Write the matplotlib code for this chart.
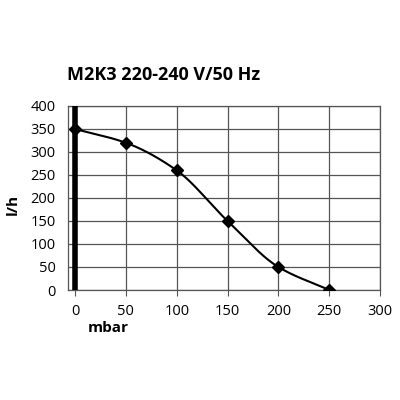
import matplotlib
matplotlib.use('Agg')
import matplotlib.pyplot as plt
import numpy as np

pressure = [0, 50, 100, 150, 200, 250]      # mbar
flow = [350, 320, 260, 150, 50, 0]          # l/h
x_ticks = [0, 50, 100, 150, 200, 250, 300]
y_ticks = [0, 50, 100, 150, 200, 250, 300, 350, 400]


def pchip(x, y, xs):
    # monotone cubic interpolation, just for a smooth line through the points
    x = np.asarray(x, float)
    y = np.asarray(y, float)
    h = np.diff(x)
    d = np.diff(y) / h
    m = np.zeros_like(y)
    for k in range(1, len(x) - 1):
        if d[k - 1] * d[k] > 0:
            w1 = 2 * h[k] + h[k - 1]
            w2 = h[k] + 2 * h[k - 1]
            m[k] = (w1 + w2) / (w1 / d[k - 1] + w2 / d[k])
    m[0] = d[0]
    m[-1] = d[-1]
    out = []
    for v in xs:
        k = min(np.searchsorted(x, v, side='right') - 1, len(x) - 2)
        t = (v - x[k]) / h[k]
        h00 = 2 * t**3 - 3 * t**2 + 1
        h10 = t**3 - 2 * t**2 + t
        h01 = -2 * t**3 + 3 * t**2
        h11 = t**3 - t**2
        out.append(h00 * y[k] + h10 * h[k] * m[k] + h01 * y[k + 1] + h11 * h[k] * m[k + 1])
    return np.array(out)


plt.rcParams['font.family'] = ['Open Sans', 'DejaVu Sans']

fig = plt.figure(figsize=(4, 4), dpi=100)
ax = fig.add_axes([0.17, 0.275, 0.78, 0.46])

xs = np.linspace(pressure[0], pressure[-1], 300)
ax.plot(xs, pchip(pressure, flow, xs), color='black', lw=1.5, zorder=3)
ax.plot(pressure, flow, linestyle='none', marker='D', markersize=6,
        color='black', zorder=4)
ax.plot([0, 0], [0, 400], color='black', lw=4, zorder=5, solid_capstyle='butt')

ax.set_xlim(-7, 300)
ax.set_ylim(0, 400)
ax.set_xticks(x_ticks)
ax.set_yticks(y_ticks)
ax.grid(True, color='#555555', lw=0.9)
ax.tick_params(axis='both', labelsize=10.5, length=4, color='#555555', pad=6)
ax.tick_params(axis='y', length=0, pad=9)
for s in ax.spines.values():
    s.set_color('#555555')
    s.set_linewidth(0.9)

fig.text(0.27, 0.18, 'mbar', fontsize=11, fontweight='bold', ha='center', va='center')
fig.text(0.032, 0.49, 'l/h', fontsize=11, fontweight='bold', rotation=90,
         ha='center', va='center')

fig.text(0.168, 0.812, 'M2K3 220-240 V/50 Hz', fontsize=13, fontweight='bold',
         va='center')

fig.savefig('out.png', dpi=100)
